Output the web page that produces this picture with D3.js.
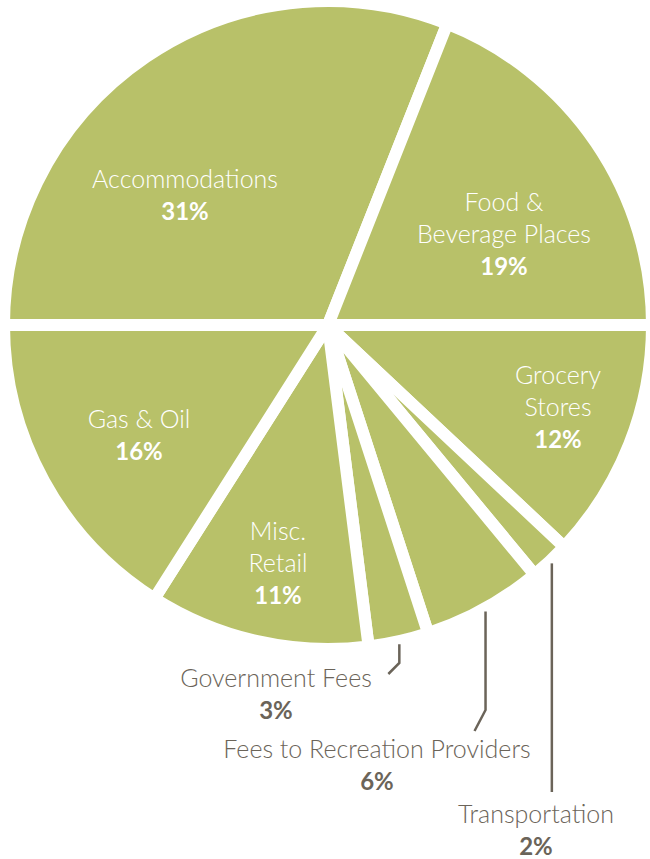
<!DOCTYPE html>
<html>
<head>
<meta charset="utf-8">
<script src="https://cdn.jsdelivr.net/npm/d3@7"></script>
<style>
  body { margin: 0; background: #fff; }
  svg { display: block; }
  text { font-family: Lato, "Open Sans", sans-serif; }
</style>
</head>
<body>
<div id="chart"></div>
<script>
const width = 650;
const height = 859;

// spending shares, clockwise from the left horizontal
const categories = ["Accommodations", "Food & Beverage Places", "Grocery Stores", "Transportation",
  "Fees to Recreation Providers", "Government Fees", "Misc. Retail", "Gas & Oil"];
const shares = [31, 19, 12, 2, 6, 3, 11, 16];
const labelLines = [["Accommodations"], ["Food &", "Beverage Places"], ["Grocery", "Stores"], ["Transportation"],
  ["Fees to Recreation Providers"], ["Government Fees"], ["Misc.", "Retail"], ["Gas & Oil"]];

// label placement relative to pie centre (first baseline)
const labelPos = [[-143, -137], [176, -114], [230, 59], [208, 498], [49, 433], [-52, 362], [-50, 215], [-189, 103]];
// outside labels: leader line elbow / end offsets (null = inside label)
const leaders = [null, null, null, {elbow: 467, dx: 0, dy: 0}, {elbow: 385, dx: -11, dy: 21},
  {elbow: 338, dx: -11, dy: 11}, null, null];

const cx = 328, cy = 325;
const R = 318;
const gap = 12;
const green = "#b8c169";
const dark = "#6b6459";

const data = categories.map((c, i) => ({name: c, share: shares[i], lines: labelLines[i], pos: labelPos[i], leader: leaders[i]}));

const svg = d3.select("#chart")
  .append("svg")
  .attr("width", width)
  .attr("height", height);

const g = svg.append("g").attr("transform", `translate(${cx},${cy})`);

const pie = d3.pie()
  .sort(null)
  .value(d => d.share)
  .startAngle(-Math.PI / 2)
  .endAngle(3 * Math.PI / 2);

const arc = d3.arc().innerRadius(0).outerRadius(R + gap / 2);

const arcs = pie(data);

g.selectAll("path.slice")
  .data(arcs)
  .enter()
  .append("path")
  .attr("class", "slice")
  .attr("d", arc)
  .attr("fill", green)
  .attr("stroke", "#fff")
  .attr("stroke-width", gap)
  .attr("stroke-linejoin", "round");

// leader lines for the small slices
const polar = (a, r) => [r * Math.sin(a), -r * Math.cos(a)];
arcs.filter(d => d.data.leader).forEach(d => {
  const mid = (d.startAngle + d.endAngle) / 2;
  const p0 = polar(mid, R + 9);
  const L = d.data.leader;
  const pts = [p0, [p0[0], L.elbow]];
  if (L.dx || L.dy) pts.push([p0[0] + L.dx, L.elbow + L.dy]);
  g.append("path")
    .attr("d", d3.line()(pts))
    .attr("fill", "none")
    .attr("stroke", dark)
    .attr("stroke-width", 2.5);
});

// labels
const labels = g.selectAll("text.label")
  .data(arcs)
  .enter()
  .append("text")
  .attr("class", "label")
  .attr("text-anchor", "middle")
  .attr("font-size", 25)
  .attr("fill", d => d.data.leader ? dark : "#fff");

labels.each(function(d) {
  const t = d3.select(this);
  const [x, y] = d.data.pos;
  const step = 32;
  d.data.lines.forEach((line, i) => {
    t.append("tspan")
      .attr("x", x)
      .attr("y", y + i * step)
      .attr("font-weight", 300)
      .text(line);
  });
  t.append("tspan")
    .attr("x", x)
    .attr("y", y + d.data.lines.length * step)
    .attr("font-weight", 700)
    .attr("font-size", 24)
    .text(d.data.share + "%");
});
</script>
</body>
</html>
